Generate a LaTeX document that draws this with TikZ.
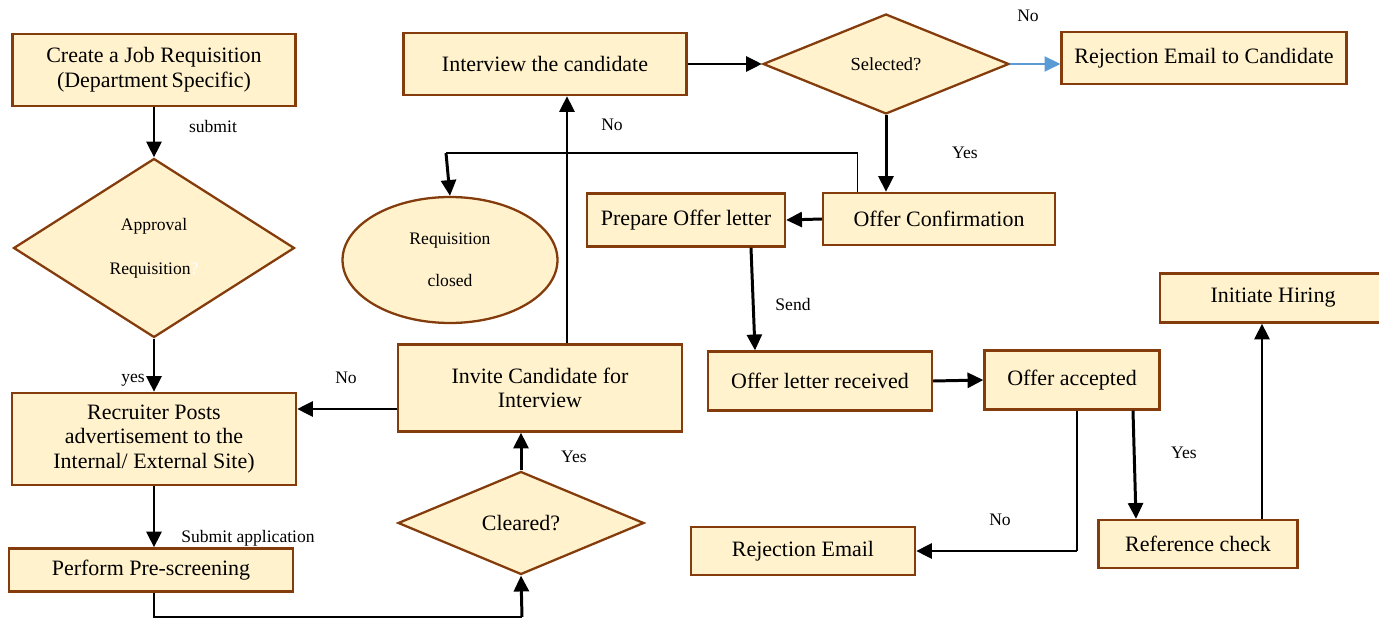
\documentclass[tikz,border=0pt]{standalone}
\usepackage{fontspec}
\setmainfont{Liberation Serif}
\usetikzlibrary{arrows.meta,shapes.geometric}
\definecolor{boxfill}{HTML}{FFF2CC}
\definecolor{boxline}{HTML}{843C0C}
\definecolor{noblue}{HTML}{5B9BD5}

\begin{document}
\begin{tikzpicture}[x=0.02cm,y=-0.02cm]
    \clip (0,0) rectangle (1379,618);

    \begin{scope}[every node/.style={fill=boxfill,draw=boxline,line width=1.3pt,align=center,inner sep=1pt,
                  font=\fontsize{12.5}{14}\selectfont}]
        \node[minimum width=5.66cm,minimum height=1.44cm] (job) at (154,70) {Create a Job Requisition\\(Department\,Specific)};
        \node[minimum width=5.68cm,minimum height=1.84cm] (recr) at (154,439) {Recruiter Posts\\advertisement to the\\Internal/ External Site)};
        \node[minimum width=5.68cm,minimum height=0.86cm] (pre) at (151,570) {Perform Pre-screening};
        \node[minimum width=5.68cm,minimum height=1.74cm] (inv) at (540,388) {Invite Candidate for\\Interview};
        \node[minimum width=5.66cm,minimum height=1.24cm] (intv) at (545,64) {Interview the candidate};
        \node[minimum width=5.70cm,minimum height=1.04cm] (rej1) at (1204,58) {Rejection Email to Candidate};
        \node[minimum width=3.96cm,minimum height=1.06cm] (prep) at (686,220) {Prepare Offer letter};
        \node[minimum width=4.64cm,minimum height=1.04cm] (conf) at (939,219) {Offer Confirmation};
        \node[minimum width=4.48cm,minimum height=1.18cm] (recv) at (820,381) {Offer letter received};
        \node[minimum width=3.50cm,minimum height=1.18cm] (acc) at (1072,380) {Offer accepted};
        \node[minimum width=4.52cm,minimum height=0.98cm] (hire) at (1273,298) {Initiate Hiring};
        \node[minimum width=3.98cm,minimum height=0.96cm] (refc) at (1198,544) {Reference check};
        \node[minimum width=4.48cm,minimum height=0.96cm] (rej2) at (803,551) {Rejection Email};

        % decisions
        \node[diamond,minimum width=5.62cm,minimum height=3.58cm,font=\fontsize{10}{12}\selectfont] (appr) at (154,248)
            {Approval\\[13pt]Requisition\textcolor{white}{?}};
        \node[diamond,minimum width=4.92cm,minimum height=2.06cm] (clr) at (521,523) {Cleared?};
        \node[diamond,minimum width=4.92cm,minimum height=2.00cm,font=\fontsize{10.5}{12}\selectfont] (sel) at (886,64) {Selected?};
        \node[ellipse,minimum width=4.30cm,minimum height=2.52cm,font=\fontsize{10}{12}\selectfont] (closed) at (450,260)
            {Requisition\\[12pt]closed};
    \end{scope}

    \begin{scope}[every node/.style={font=\fontsize{10}{12}\selectfont,inner sep=1pt}]
        \node (l-submit) at (213,126) {submit};
        \node (l-yes) at (133,380) {yes};
        \node (l-apply) at (248,538) {Submit application};
        \node (l-clryes) at (574,457) {Yes};
        \node (l-invno) at (346,378) {No};
        \node (l-intvno) at (612,125) {No};
        \node (l-selno) at (1028,16) {No};
        \node (l-selyes) at (965,153) {Yes};
        \node (l-send) at (793,304) {Send};
        \node (l-accyes) at (1184,453) {Yes};
        \node (l-accno) at (1000,520) {No};
    \end{scope}

    \coordinate (bot) at (522,617);
    \coordinate (up) at ([xshift=-1.64cm]conf.north);
    \coordinate (over) at (446,153);
    \coordinate (nturn) at ([xshift=0.1cm]acc.south |- rej2.east);

    \begin{scope}[>={Triangle[length=9pt,width=8.5pt]},
                  every edge/.style={draw=black,line width=1.7pt}]
        \path [->] (job.south) edge (appr.north);
        \path [->] (appr.south) edge (recr.north);
        \path [->] (recr.south) edge (recr.south |- pre.north);
        \path [->] (bot) edge (clr.south);
        \path [->] (clr.north) edge (clr.north |- inv.south);
        \path [->] ([yshift=-0.42cm]inv.west) edge ([yshift=-0.42cm]inv.west -| recr.east);
        \path [->] ([xshift=0.54cm]inv.north) edge ([xshift=0.54cm]inv.north |- intv.south);
        \path [->] (intv.east) edge (sel.west);
        \path [->] (sel.east) edge[draw=noblue,line width=1.4pt] (sel.east -| rej1.west);
        \path [->] (sel.south) edge (sel.south |- conf.north);
        \path [->] (over) edge (closed.north);
        \path [->] (conf.west) edge (prep.east);
        \path [->] ([xshift=1.3cm]prep.south) edge ([xshift=-1.3cm]recv.north);
        \path [->] (recv.east) edge (acc.west);
        \path [->] ([xshift=1.22cm]acc.south) edge ([xshift=-1.24cm]refc.north);
        \path [->] (nturn) edge (rej2.east);
        \path [->] ([xshift=1.28cm]refc.north) edge ([xshift=1.28cm]refc.north |- hire.south);
    \end{scope}

    % thin joins
    \draw[line width=0.6pt] (recr.south |- pre.south) |- (bot);
    \draw[line width=0.6pt] (up) -- (up |- over) -- (over);
    \draw[line width=0.6pt] ([xshift=0.1cm]acc.south) -- (nturn);
\end{tikzpicture}
\end{document}
